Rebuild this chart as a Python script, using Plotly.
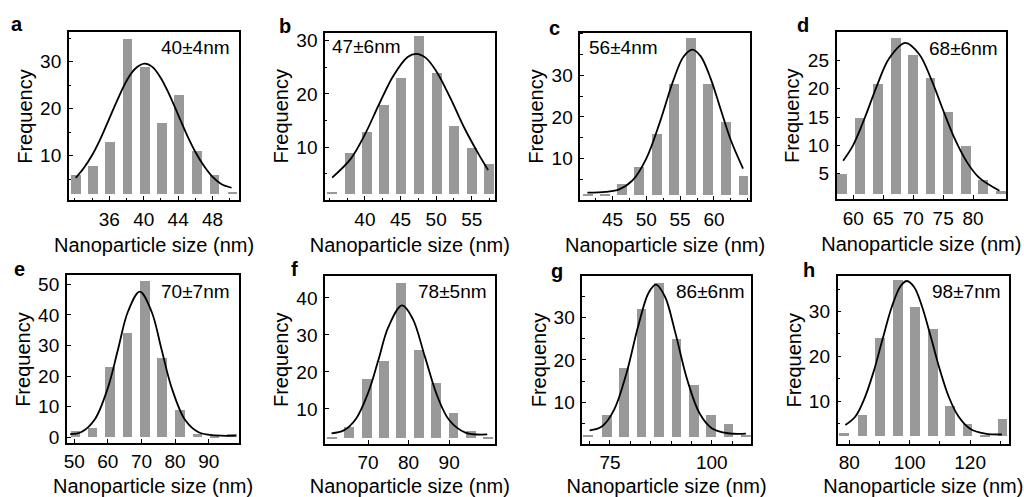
import plotly.graph_objects as go

# ---------------- data ----------------
panel_labels = ["a", "b", "c", "d", "e", "f", "g", "h"]
fit_labels = ["40±4nm", "47±6nm", "56±4nm", "68±6nm", "70±7nm", "78±5nm", "86±6nm", "98±7nm"]
x_title = "Nanoparticle size (nm)"
y_title = "Frequency"

a_size = [32.1, 34.1, 36.1, 38.1, 40.1, 42.1, 44.1, 46.2, 48.2, 50.3]
a_freq = [6, 8, 13, 35, 29, 17, 23, 11, 6, 2.25]
a_fit_x = [32.1, 33, 34, 35, 36, 37, 38, 39, 40.1, 41, 42, 43, 44, 45, 46, 47, 48, 49, 50.2]
a_fit_y = [5.3, 7.3, 10.1, 13.7, 17.9, 22.1, 25.9, 28.5, 29.6, 28.9, 26.5, 22.9, 18.7, 14.5, 10.8, 7.8, 5.5, 4.0, 3.2]
a_xticks = [36, 40, 44, 48]
a_yticks = [10, 20, 30]

b_size = [35.4, 37.9, 40.3, 42.7, 45.1, 47.6, 50.1, 52.5, 55.0, 57.4]
b_freq = [1.55, 9, 13, 18, 23, 31, 24, 14, 10, 7]
b_fit_x = [35.4, 38, 40, 42, 44, 46, 47.2, 48.5, 50, 52, 54, 56, 57.3]
b_fit_y = [4.3, 7.8, 12.4, 18.1, 23.4, 26.9, 27.5, 26.8, 24.3, 19.2, 13.5, 8.6, 5.7]
b_xticks = [40, 45, 50, 55]
b_yticks = [10, 20, 30]

c_size = [41.4, 43.9, 46.5, 49.0, 51.6, 54.1, 56.7, 59.2, 61.8, 64.4]
c_freq = [1.55, 1.55, 4, 8, 16, 28, 39, 28, 19, 6]
c_fit_x = [41.3, 44, 46, 48, 50, 52, 54, 55.5, 56.8, 58, 59.5, 61, 62.5, 64.3]
c_fit_y = [1.8, 2.0, 2.6, 4.8, 10.0, 18.7, 28.8, 34.5, 36.2, 34.7, 29.3, 21.8, 14.4, 7.6]
c_xticks = [45, 50, 55, 60]
c_yticks = [10, 20, 30]

d_size = [58.1, 61.05, 64.0, 67.0, 69.9, 72.8, 75.8, 78.7, 81.6, 84.6]
d_freq = [5, 15, 21, 29, 26, 22, 16, 10, 4, 2]
d_fit_x = [58.3, 60, 62, 64, 66, 68.7, 71, 73, 75, 77, 79, 81, 84.4]
d_fit_y = [7.3, 10.1, 15.1, 20.7, 25.4, 28.1, 26.1, 21.7, 16.2, 11.0, 7.0, 4.3, 2.0]
d_xticks = [60, 65, 70, 75, 80]
d_yticks = [5, 10, 15, 20, 25]

e_size = [50.3, 55.4, 60.6, 65.8, 71.0, 76.1, 81.3, 86.6, 91.7, 96.9]
e_freq = [2, 3, 23, 34, 51, 26, 9, 1, 0.3, 1]
e_fit_x = [48.8, 52, 56, 60, 63, 66, 69.5, 73, 76, 79, 83, 87, 92, 98.1]
e_fit_y = [1.0, 1.6, 5.6, 16.1, 28.6, 41.1, 47.6, 41.1, 28.6, 16.1, 5.6, 1.6, 0.6, 0.5]
e_xticks = [50, 60, 70, 80, 90]
e_yticks = [0, 10, 20, 30, 40, 50]

f_size = [61.1, 65.3, 69.7, 73.9, 78.2, 82.5, 86.7, 91.1, 95.4, 99.6]
f_freq = [2.25, 5, 18, 23, 44, 26, 17, 9, 4, 2.25]
f_fit_x = [61, 64, 67, 70, 72.5, 75, 78.4, 81, 84, 87, 90, 94, 99.4]
f_fit_y = [3.4, 4.2, 7.3, 14.3, 23.0, 32.1, 38.0, 34.4, 24.2, 13.7, 7.0, 3.6, 3.1]
f_xticks = [70, 80, 90]
f_yticks = [10, 20, 30, 40]

g_size = [69.6, 74.3, 78.6, 82.8, 87.1, 91.4, 95.7, 99.9, 104.2, 108.4]
g_freq = [2.15, 7, 18, 32, 38, 25, 14, 7, 5, 2.15]
g_fit_x = [70, 73, 76, 79, 82, 84.5, 86.3, 88.5, 91, 94, 97, 100, 104, 108.4]
g_fit_y = [3.5, 4.4, 8.3, 16.7, 28.2, 35.8, 37.7, 34.9, 26.6, 15.3, 7.5, 4.0, 2.8, 2.7]
g_xticks = [75, 100]
g_yticks = [10, 20, 30]

h_size = [78.1, 84.2, 90.1, 95.9, 101.7, 107.5, 113.2, 119.0, 124.7, 130.6]
h_freq = [3, 7, 24, 37, 31, 26, 9, 5, 2.45, 6]
h_fit_x = [78.7, 82, 85, 88, 91, 94, 97, 99.1, 101.5, 104, 107, 110, 113, 116, 120, 125, 130.5]
h_fit_y = [4.7, 6.6, 10.6, 16.5, 23.8, 30.9, 35.7, 36.8, 35.4, 31.3, 24.3, 17.0, 10.9, 6.8, 3.9, 2.8, 2.6]
h_xticks = [80, 100, 120]
h_yticks = [10, 20, 30]

# baseline the columns are drawn from (per panel)
bar_base = [2.0, 1.3, 1.3, 1.5, 0.0, 2.0, 1.9, 2.2]

sizes = [a_size, b_size, c_size, d_size, e_size, f_size, g_size, h_size]
freqs = [a_freq, b_freq, c_freq, d_freq, e_freq, f_freq, g_freq, h_freq]
fit_xs = [a_fit_x, b_fit_x, c_fit_x, d_fit_x, e_fit_x, f_fit_x, g_fit_x, h_fit_x]
fit_ys = [a_fit_y, b_fit_y, c_fit_y, d_fit_y, e_fit_y, f_fit_y, g_fit_y, h_fit_y]
xticks = [a_xticks, b_xticks, c_xticks, d_xticks, e_xticks, f_xticks, g_xticks, h_xticks]
yticks = [a_yticks, b_yticks, c_yticks, d_yticks, e_yticks, f_yticks, g_yticks, h_yticks]

# ---------------- layout / style ----------------
W, H = 1024, 497
# plot boxes in pixels: left, right, top, bottom
boxes = [(66, 237, 30, 201), (323, 493, 31, 201), (579, 749, 31, 201), (836, 1006, 30, 200),
         (64, 237, 277, 447), (323, 493, 278, 448), (581, 750, 278, 448), (837, 1009, 278, 448)]
x_ranges = [(31.3, 51.1), (34.4, 58.2), (40.25, 65.3), (57.2, 85.5),
            (47.8, 99.1), (59.4, 101.2), (68.2, 109.6), (76.1, 132.9)]
y_ranges = [(0.56, 36.4), (0.06, 31.5), (0.0, 40.3), (0.5, 30.1),
            (-1.8, 53.0), (0.6, 45.9), (0.35, 39.7), (0.55, 37.9)]
x_minor = [2, 2.5, 2.5, None, None, None, 5, 10]
y_minor = [5, 5, 5, None, None, None, 5, 5]
label_pos = [(14, 22), (283, 24), (553, 26), (802, 23), (17, 271), (292, 271), (556, 273), (808, 272)]
fit_pos = [(193, 46), (365, 45), (622, 46), (963, 47), (193, 294), (451, 294), (710, 294), (966, 294)]

FONT = "Liberation Sans, Arial, sans-serif"
BAR_COLOR = "#999999"

fig = go.Figure()
annotations = []

for i in range(8):
    n = "" if i == 0 else str(i + 1)
    xa, ya = "x" + n, "y" + n
    xs, fr, base = sizes[i], freqs[i], bar_base[i]
    step = (xs[-1] - xs[0]) / (len(xs) - 1)
    fig.add_trace(go.Bar(
        x=xs, y=[v - base for v in fr], base=base, width=0.56 * step,
        marker=dict(color=BAR_COLOR, line=dict(width=0)),
        xaxis=xa, yaxis=ya, showlegend=False))
    fig.add_trace(go.Scatter(
        x=fit_xs[i], y=fit_ys[i], mode="lines",
        line=dict(color="black", width=1.8, shape="spline", smoothing=1.0),
        xaxis=xa, yaxis=ya, showlegend=False))

    L, R, T, B = boxes[i]
    common = dict(showline=True, linecolor="black", linewidth=1.5, mirror=True,
                  ticks="inside", ticklen=4, tickwidth=1.2, tickcolor="black",
                  showgrid=False, zeroline=False, tickmode="array",
                  tickfont=dict(family=FONT, size=19, color="black"))
    xkw = dict(common, domain=[L / W, R / W], range=list(x_ranges[i]), anchor=ya,
               tickvals=xticks[i], ticklabelstandoff=1,
               title=dict(text=x_title, standoff=9,
                          font=dict(family=FONT, size=20, color="black")))
    ykw = dict(common, domain=[1 - B / H, 1 - T / H], range=list(y_ranges[i]), anchor=xa,
               tickvals=yticks[i], ticklabelstandoff=2)
    if x_minor[i]:
        xkw["minor"] = dict(tickmode="linear", tick0=0, dtick=x_minor[i], ticks="inside",
                            ticklen=2.5, tickwidth=1, tickcolor="black", showgrid=False)
    if y_minor[i]:
        ykw["minor"] = dict(tickmode="linear", tick0=0, dtick=y_minor[i], ticks="inside",
                            ticklen=2.5, tickwidth=1, tickcolor="black", showgrid=False)
    fig.layout["xaxis" + n] = xkw
    fig.layout["yaxis" + n] = ykw

    # y axis title
    annotations.append(dict(text=y_title, xref="paper", yref="paper",
                            x=(L - 44) / W, y=1 - (T + B) / 2 / H, textangle=-90,
                            xanchor="center", yanchor="middle",
                            showarrow=False, font=dict(family=FONT, size=20, color="black")))
    # panel letter
    px, py = label_pos[i]
    annotations.append(dict(text="<b>%s</b>" % panel_labels[i], xref="paper", yref="paper",
                            x=px / W, y=1 - py / H, xanchor="center", yanchor="middle",
                            showarrow=False, font=dict(family=FONT, size=20, color="black")))
    # fit text
    fx, fy = fit_pos[i]
    annotations.append(dict(text=fit_labels[i], xref="paper", yref="paper",
                            x=fx / W, y=1 - fy / H, xanchor="center", yanchor="middle",
                            showarrow=False, font=dict(family=FONT, size=19, color="black")))

fig.update_layout(width=W, height=H, margin=dict(l=0, r=0, t=0, b=0),
                  paper_bgcolor="white", plot_bgcolor="white",
                  annotations=annotations, bargap=0)

fig.write_html("out.html")
